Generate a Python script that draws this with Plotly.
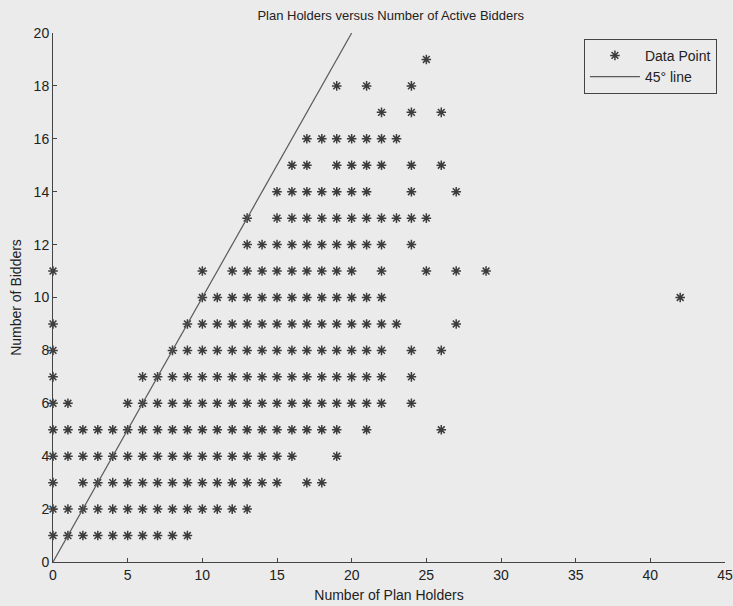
import plotly.graph_objects as go

# Number of bidders (y) -> list of plan-holder counts (x) with a data point
bidders = list(range(1, 20))
holders_by_bidders = [
    list(range(0, 10)),                                   # 1
    list(range(0, 14)),                                   # 2
    [0] + list(range(2, 16)) + [17, 18],                  # 3
    list(range(0, 17)) + [19],                            # 4
    list(range(0, 20)) + [21, 26],                        # 5
    [0, 1] + list(range(5, 23)) + [24],                   # 6
    [0] + list(range(6, 23)) + [24],                      # 7
    [0] + list(range(8, 23)) + [24, 26],                  # 8
    [0] + list(range(9, 24)) + [27],                      # 9
    list(range(10, 23)) + [42],                           # 10
    [0, 10] + list(range(12, 21)) + [22, 25, 27, 29],     # 11
    list(range(13, 23)) + [24],                           # 12
    [13] + list(range(15, 26)),                           # 13
    list(range(15, 22)) + [24, 27],                       # 14
    [16, 17, 19, 20, 21, 22, 24, 26],                     # 15
    list(range(17, 24)),                                  # 16
    [22, 24, 26],                                         # 17
    [19, 21, 24],                                         # 18
    [25],                                                 # 19
]
line_x = [0, 20]
line_y = [0, 20]

xs, ys = [], []
for b, hs in zip(bidders, holders_by_bidders):
    for h in hs:
        xs.append(h)
        ys.append(b)

bg = "#ebebeb"
font = "Liberation Sans, Arial, sans-serif"

fig = go.Figure()
fig.add_trace(go.Scatter(
    x=xs, y=ys, mode="markers", name="Data Point",
    marker=dict(symbol="asterisk-open", size=8, color="#3c3c3c",
                line=dict(width=1.5, color="#3c3c3c")),
    cliponaxis=False,
))
fig.add_trace(go.Scatter(
    x=line_x, y=line_y, mode="lines", name="45° line",
    line=dict(color="#5a5a5a", width=1.2),
))

fig.update_layout(
    width=733, height=606,
    paper_bgcolor=bg, plot_bgcolor=bg,
    margin=dict(l=53, r=8, t=33, b=44, autoexpand=False),
    font=dict(family=font, size=14, color="#222222"),
    title=dict(text="Plan Holders versus Number of Active Bidders",
               x=0.533, xanchor="center", y=0.975, yanchor="middle",
               font=dict(size=13, color="#222222")),
    showlegend=True,
    legend=dict(x=0.988, y=0.989, xanchor="right", yanchor="top",
                bgcolor=bg, bordercolor="#444444", borderwidth=1,
                font=dict(size=14, color="#222222"),
                itemwidth=50, tracegroupgap=0),
)
fig.update_xaxes(
    range=[0, 45], tickvals=list(range(0, 50, 5)), automargin=False,
    showgrid=False, zeroline=False, showline=True, linecolor="#444444",
    linewidth=1, ticks="inside", ticklen=4, tickcolor="#444444",
    title=dict(text="Number of Plan Holders", standoff=8, font=dict(size=14)),
    tickfont=dict(size=14),
)
fig.update_yaxes(
    range=[0, 20], tickvals=list(range(0, 22, 2)), automargin=False,
    showgrid=False, zeroline=False, showline=True, linecolor="#444444",
    linewidth=1, ticks="inside", ticklen=4, tickcolor="#444444",
    title=dict(text="Number of Bidders", standoff=8, font=dict(size=14)),
    tickfont=dict(size=14),
)

fig.write_html(
    "out.html",
    config={"displayModeBar": False},
    post_script="document.body.style.margin='0';"
                "document.body.style.background='#ebebeb';",
)
